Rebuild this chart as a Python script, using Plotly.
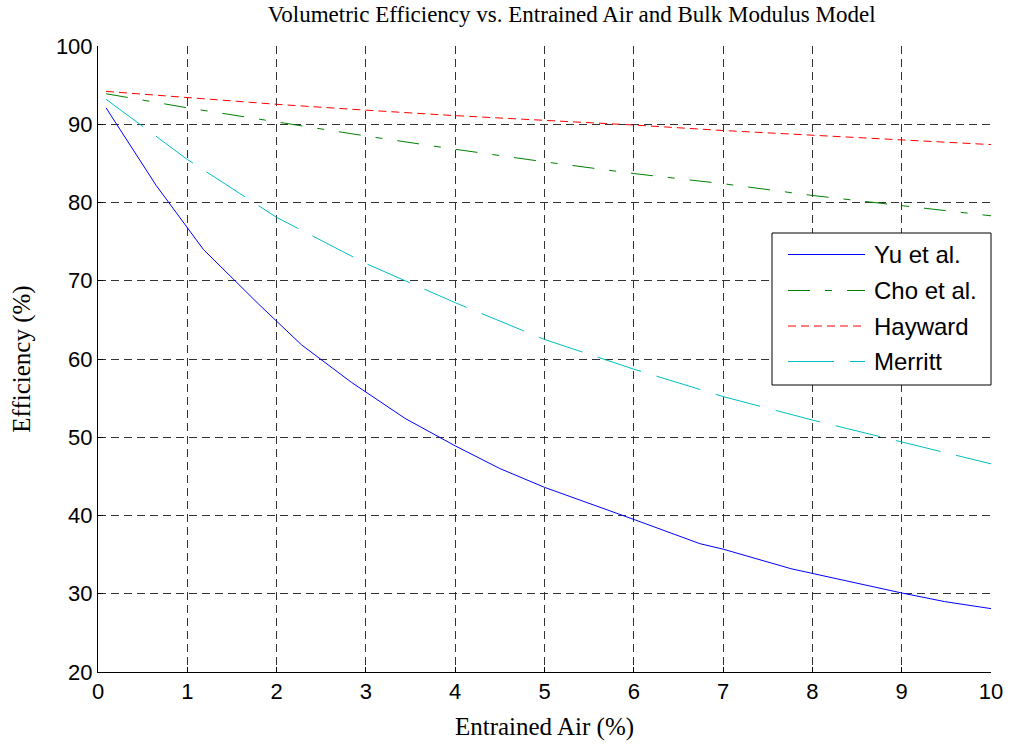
import plotly.graph_objects as go

# Data
yu_x = [0.09, 0.65, 1.18, 1.80, 2.28, 2.84, 3.44, 4.0, 4.50, 5.0, 6.0, 6.74, 7.0, 7.76, 8.0, 9.0, 9.48, 10.0]
yu_y = [92.1, 82.2, 74.0, 67.0, 61.8, 57.0, 52.4, 48.9, 46.0, 43.6, 39.5, 36.4, 35.7, 33.2, 32.6, 30.1, 29.0, 28.1]

air_x = [0.09, 1, 2, 3, 4, 5, 6, 7, 8, 9, 10]
cho_y = [93.9, 92.1, 90.3, 88.5, 86.8, 85.2, 83.7, 82.4, 80.9, 79.6, 78.3]
hayward_y = [94.2, 93.4, 92.55, 91.8, 91.1, 90.5, 89.9, 89.2, 88.6, 88.0, 87.4]
merritt_y = [93.2, 85.5, 78.1, 72.2, 67.2, 62.5, 58.7, 55.2, 52.2, 49.4, 46.6]

x_ticks = list(range(0, 11))
y_ticks = list(range(20, 101, 10))

series_names = ["Yu et al.", "Cho et al.", "Hayward", "Merritt"]
series_colors = ["#0000FF", "#008000", "#FF0000", "#00BFBF"]
series_dashes = ["solid", "22px,15px,7px,15px", "8px,5px", "46px,16px"]
series_x = [yu_x, air_x, air_x, air_x]
series_y = [yu_y, cho_y, hayward_y, merritt_y]

W, H = 1010, 746
ML, MR, MT, MB = 98, 19, 46, 74
PW, PH = W - ML - MR, H - MT - MB


def px_to_paper_x(px):
    return (px - ML) / PW


def px_to_paper_y(py):
    return (H - MB - py) / PH


fig = go.Figure()
for name, color, dash, xs, ys in zip(series_names, series_colors, series_dashes, series_x, series_y):
    fig.add_trace(go.Scatter(x=xs, y=ys, mode="lines", name=name, showlegend=False,
                             line=dict(color=color, width=1, dash=dash)))

# Custom legend box (matches the long line samples of the original)
shapes = [dict(type="rect", xref="paper", yref="paper",
               x0=px_to_paper_x(772), x1=px_to_paper_x(991),
               y0=px_to_paper_y(385), y1=px_to_paper_y(233),
               line=dict(color="black", width=1), fillcolor="white", layer="above")]
annotations = []
row_y = [254.5, 290.5, 326, 361.5]
for name, color, dash, ry in zip(series_names, series_colors, series_dashes, row_y):
    shapes.append(dict(type="line", xref="paper", yref="paper",
                       x0=px_to_paper_x(788), x1=px_to_paper_x(865),
                       y0=px_to_paper_y(ry), y1=px_to_paper_y(ry),
                       line=dict(color=color, width=1, dash=dash), layer="above"))
    annotations.append(dict(xref="paper", yref="paper", x=px_to_paper_x(872), y=px_to_paper_y(ry),
                            xanchor="left", yanchor="middle", text=name, showarrow=False,
                            font=dict(family="Liberation Sans, Arial, sans-serif", size=24, color="black")))

fig.update_layout(
    width=W, height=H,
    margin=dict(l=ML, r=MR, t=MT, b=MB),
    paper_bgcolor="white", plot_bgcolor="white",
    title=dict(text="Volumetric Efficiency vs. Entrained Air and Bulk Modulus Model",
               x=0.566, xanchor="center", y=0.992, yanchor="top",
               font=dict(family="Liberation Serif, Times New Roman, serif", size=23, color="black")),
    font=dict(family="Liberation Sans, Arial, sans-serif", size=22, color="black"),
    showlegend=False,
    shapes=shapes,
    annotations=annotations,
)
fig.update_xaxes(
    range=[0, 10], tickvals=x_ticks, ticktext=[str(v) for v in x_ticks],
    showline=True, linecolor="black", linewidth=1,
    ticks="inside", ticklen=5, tickcolor="black",
    showgrid=True, gridcolor="#333333", gridwidth=1, griddash="8px,5px",
    zeroline=False, mirror=False, automargin=False,
    title=dict(text="Entrained Air (%)", standoff=14,
               font=dict(family="Liberation Serif, Times New Roman, serif", size=25, color="black")),
)
fig.update_yaxes(
    range=[20, 100], tickvals=y_ticks, ticktext=[str(v) for v in y_ticks],
    showline=True, linecolor="black", linewidth=1,
    ticks="inside", ticklen=5, tickcolor="black",
    showgrid=True, gridcolor="#333333", gridwidth=1, griddash="8px,5px",
    zeroline=False, mirror=False, automargin=False,
    title=dict(text="Efficiency (%)", standoff=18,
               font=dict(family="Liberation Serif, Times New Roman, serif", size=25, color="black")),
)

fig.write_html("out.html")
